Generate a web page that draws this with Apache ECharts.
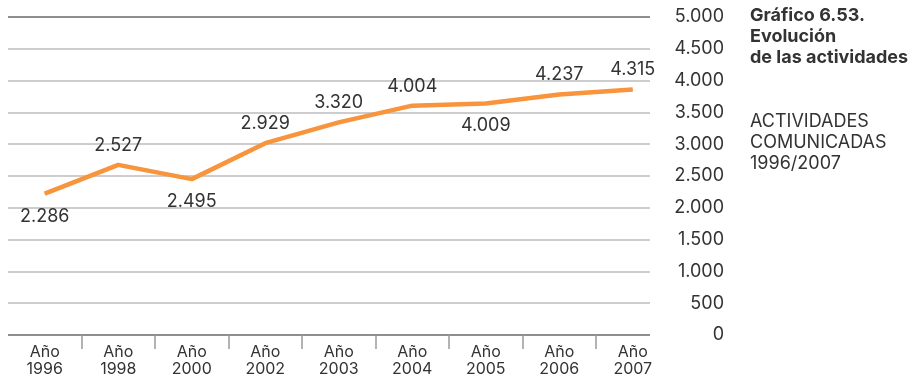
<!DOCTYPE html>
<html><head><meta charset="utf-8">
<script src="https://cdn.jsdelivr.net/npm/echarts@6/dist/echarts.min.js"></script>
<style>html,body{margin:0;padding:0;background:#fff}#c{width:919px;height:378px}</style>
</head><body><div id="c"></div>
<script>
// ---- data ----
const years = ['1996', '1998', '2000', '2002', '2003', '2004', '2005', '2006', '2007'];
const categories = years.map(y => 'Año\n' + y);
// line positions as drawn in the picture
const plottedValues = [2150, 2615, 2385, 2965, 3300, 3570, 3605, 3750, 3830];
// printed value labels (as shown in the picture)
const valueLabels = ['2.286', '2.527', '2.495', '2.929', '3.320', '4.004', '4.009', '4.237', '4.315'];
const yMin = 0, yMax = 5000, yStep = 500;
const titleText = 'Gráfico 6.53.\nEvolución\nde las actividades';
const subtitleText = 'ACTIVIDADES\nCOMUNICADAS\n1996/2007';

// ---- chart ----
const FONT = 'Inter';
const TXT = '#333333';
const labelBelow = [true, false, true, false, false, false, true, false, false];
const fmt = v => String(v).replace(/\B(?=(\d{3})+(?!\d))/g, '.');
const nTicks = (yMax - yMin) / yStep + 1;
const splitColors = [];
for (let i = 0; i < nTicks; i++) splitColors.push(i === 0 || i === nTicks - 1 ? '#8e8e8e' : '#cdcdcd');

const chart = echarts.init(document.getElementById('c'), null, { renderer: 'canvas' });
chart.setOption({
  animation: false,
  textStyle: { fontFamily: FONT },
  title: [
    { text: titleText, left: 750, top: 5, padding: 0,
      textStyle: { fontFamily: FONT, fontSize: 18, fontWeight: 'bold', lineHeight: 21, color: TXT } },
    { text: subtitleText, left: 750, top: 111, padding: 0,
      textStyle: { fontFamily: FONT, fontSize: 18, fontWeight: 'normal', lineHeight: 21, color: TXT } }
  ],
  grid: [
    { left: 8, top: 17, width: 642, height: 318 },
    { left: 8, top: 17, width: 661.5, height: 318 },
    { left: 8, top: 335, width: 661.5, height: 14 }
  ],
  xAxis: [
    { gridIndex: 0, type: 'category', data: categories, show: false },
    { gridIndex: 1, type: 'category', data: categories, boundaryGap: true,
      axisLine: { show: false }, axisTick: { show: false }, splitLine: { show: false },
      axisLabel: { interval: 0, margin: 17, fontFamily: FONT, fontSize: 16, lineHeight: 17, color: TXT } },
    { gridIndex: 2, type: 'category', data: categories, boundaryGap: true,
      axisLine: { show: false }, axisTick: { show: false }, axisLabel: { show: false },
      splitLine: { show: true, interval: 0, showMinLine: false, showMaxLine: false,
        lineStyle: { color: '#9a9a9a', width: 1.5 } } }
  ],
  yAxis: [
    { gridIndex: 0, type: 'value', position: 'right', min: yMin, max: yMax, interval: yStep,
      axisLine: { show: false }, axisTick: { show: false },
      axisLabel: { align: 'right', margin: 74, fontFamily: FONT, fontSize: 18, color: TXT, formatter: fmt },
      splitLine: { show: true, lineStyle: { color: splitColors, width: 2 } } },
    { gridIndex: 1, type: 'value', min: yMin, max: yMax, interval: yStep, show: false },
    { gridIndex: 2, type: 'value', show: false }
  ],
  series: [{
    type: 'line',
    xAxisIndex: 1, yAxisIndex: 1,
    data: plottedValues.map((v, i) => ({
      value: v,
      label: { position: labelBelow[i] ? 'bottom' : 'top', distance: labelBelow[i] ? 12 : 9 }
    })),
    symbol: 'circle', symbolSize: 1,
    itemStyle: { color: '#F7943C' },
    lineStyle: { color: '#F7943C', width: 4.5 },
    label: { show: true, fontFamily: FONT, fontSize: 18, lineHeight: 20, color: TXT,
      formatter: p => valueLabels[p.dataIndex] },
    silent: true
  }]
});
</script>
</body></html>
